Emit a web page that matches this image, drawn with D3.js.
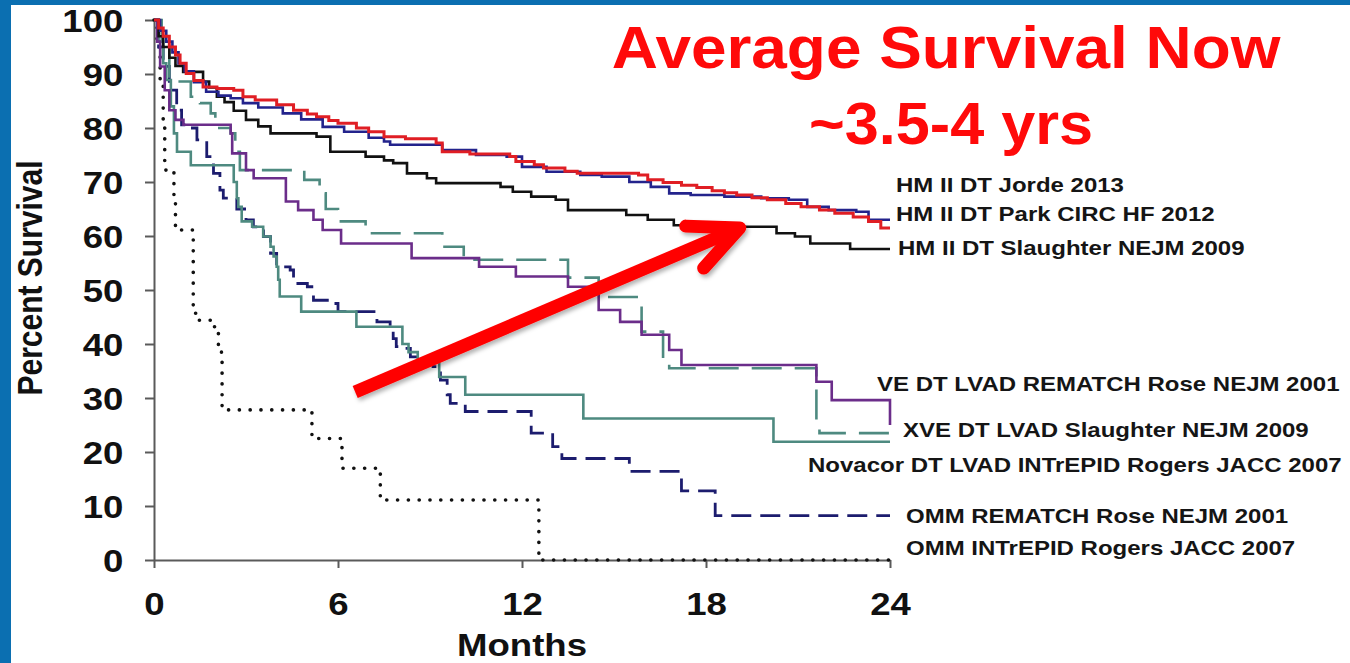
<!DOCTYPE html>
<html>
<head>
<meta charset="utf-8">
<script src="https://cdn.jsdelivr.net/npm/d3@7"></script>
<style>
  html, body { margin: 0; padding: 0; background: #fff; }
  svg { display: block; font-family: "Liberation Sans", Arial, Helvetica, sans-serif; }
</style>
</head>
<body>
<svg id="chart" width="1350" height="663"></svg>
<script>
// ---- Axis ticks ----
const monthTicks = [0, 6, 12, 18, 24];
const percentTicks = [0, 10, 20, 30, 40, 50, 60, 70, 80, 90, 100];

// ---- Kaplan-Meier steps: month where each step starts, survival (%) after it ----
const jordeMonths   = [0,0.15,0.3,0.5,0.7,0.85,1.05,1.3,1.6,2.05,2.6,2.9,3.3,4.0,4.55,5.0,5.3,5.7,6.0,6.6,7.0,7.5,8.2,9.2,9.4,10.3,11.6,11.8,12.4,12.7,13.4,13.8,15.8,16.1,16.6,17.2,17.7,18.2,18.6,19.0,19.5,20.0,20.6,21.1,21.7,22.2,22.8,23.3,23.7];
const jordeSurvival = [100,98.5,97,95,93.5,92,90.1,88.8,87.6,87.3,87.0,85.8,85.2,84.3,83.3,82.6,82.1,81.4,80.9,80.0,79.3,78.4,78.0,77.2,75.6,75.2,74.7,73.8,73.2,72.6,72.0,71.6,71.3,70.4,69.9,69.4,69.0,68.4,68.0,67.6,67.1,66.7,66.0,65.4,64.8,64.2,63.5,62.7,61.5];

const parkMonths   = [0,0.2,0.4,0.6,0.8,1.0,1.3,1.7,2.1,2.5,2.9,3.4,4.2,4.8,5.5,6.2,7.0,7.5,7.7,9.4,10.5,11.5,12.0,12.8,13.9,14.6,15.5,16.2,16.8,17.5,18.6,19.8,20.7,21.3,22.0,22.9,23.3];
const parkSurvival = [100,98,96,94,92,90.5,88.5,86.7,86.0,85.5,84.6,83.8,82.7,81.6,80.2,79.3,78.2,77.5,76.9,75.9,75.0,74.7,72.8,71.9,71.3,71.0,70.0,69.1,67.9,67.6,67.3,67.0,66.7,65.4,64.8,64.5,63.0];

const slaughterMonths   = [0,0.15,0.3,0.5,0.7,0.95,1.6,1.8,2.05,2.3,2.6,3.0,3.4,3.8,5.3,5.75,6.9,7.5,7.8,8.25,8.9,9.2,11.3,11.7,12.3,13.1,13.5,15.4,16.1,16.95,19.1,20.3,20.9,21.4,22.7];
const slaughterSurvival = [100,97,95,93,91.5,90.4,88.6,87.5,85.8,84.8,83.2,81.5,80.3,79.0,78.4,75.6,74.7,74.0,73.5,71.6,70.7,69.8,69.1,68.2,67.3,66.7,64.8,63.9,63.0,62.0,61.7,60.5,59.9,58.6,57.6];

const veMonths   = [0,0.1,0.2,0.35,0.5,0.7,0.96,2.5,2.55,3.0,3.25,4.3,4.7,5.2,5.5,6.1,8.4,10.6,11.8,13.5,14.5,15.2,15.9,16.8,17.2,21.6,22.1,24];
const veSurvival = [100,96,91.4,87,83.3,81.5,80.6,79.0,75.3,72.2,70.7,66.4,64.8,63.0,61.1,58.6,55.9,54.3,52.5,50.6,46.3,44.1,41.7,38.9,36.1,33.0,29.6,25.0];

const xveMonths   = [0,0.25,0.5,1.2,1.5,1.85,2.0,2.5,2.65,2.8,4.9,5.4,5.6,6.0,6.9,9.4,10.1,13.5,14.5,15.9,16.6,16.8,21.6,21.7];
const xveSurvival = [100,95,88.6,85.8,84.6,82.7,80.0,79.0,75.6,72.2,70.4,67.9,65.0,62.7,60.5,58.0,55.6,52.3,48.7,42.3,36.4,35.5,24.4,23.5];

const novacorMonths   = [0,0.15,0.3,0.4,0.55,0.65,0.75,1.2,2.6,2.7,2.75,2.86,3.2,3.56,3.8,3.9,4.0,4.05,4.1,4.8,6.6,8.1,8.3,8.6,9.3,10.15,14.0,20.2];
const novacorSurvival = [100,96,92,88.9,84,79,75.6,73.1,70.0,67.0,65.4,62.7,61.7,59.9,58.0,56.2,54.3,51.9,48.8,46.0,43.2,40.0,38.5,37.0,33.9,30.6,26.2,21.9];

const ommRematchMonths   = [0,0.15,0.3,0.5,0.74,0.9,1.2,1.4,1.72,1.94,2.15,2.26,2.7,3.0,3.24,3.57,3.8,4.0,4.44,4.55,5.0,5.2,5.75,6.0,7.27,7.7,7.8,7.9,8.25,8.36,9.1,9.34,9.56,9.66,10.15,12.3,13.0,13.3,15.5,17.2,18.3];
const ommRematchSurvival = [100,95,91.4,87,83.3,80.6,80.0,77.8,74.7,71.6,68.5,67.0,65.0,63.0,61.7,59.9,56.8,54.3,53.7,51.2,50.6,48.1,47.5,46.0,44.1,42.9,41.0,39.5,39.2,37.6,35.8,33.3,30.6,29.0,27.5,23.5,21.0,18.8,16.4,12.8,8.2];

const ommIntrepidMonths   = [0,0.1,0.2,0.3,0.35,0.65,0.7,1.28,1.45,1.95,2.1,2.2,2.22,5.15,6.13,7.38,12.55];
const ommIntrepidSurvival = [100,95,88,80,72.2,66,61.1,45.7,44.4,43.2,38.9,37.6,27.8,22.5,17.0,11.1,0];

const seriesLabels = [
  "HM II DT Jorde 2013",
  "HM II DT Park CIRC HF 2012",
  "HM II DT Slaughter NEJM 2009",
  "VE DT LVAD REMATCH Rose NEJM 2001",
  "XVE DT LVAD Slaughter NEJM 2009",
  "Novacor DT LVAD INTrEPID Rogers JACC 2007",
  "OMM REMATCH Rose NEJM 2001",
  "OMM INTrEPID Rogers JACC 2007"
];

// ---- Drawing setup ----
const svg = d3.select("#chart");
const W = 1350, H = 663;
const x = d3.scaleLinear().domain([0, 24]).range([154, 890]);
const y = d3.scaleLinear().domain([0, 100]).range([560, 20]);
const textStretch = 1.18;

svg.append("rect").attr("width", W).attr("height", H).attr("fill", "#fff");

const defs = svg.append("defs");
const shadow = defs.append("filter").attr("id", "arrowShadow")
  .attr("x", "-10%").attr("y", "-10%").attr("width", "130%").attr("height", "140%");
shadow.append("feDropShadow").attr("dx", 2).attr("dy", 3).attr("stdDeviation", 2)
  .attr("flood-color", "#000").attr("flood-opacity", 0.3);

// slide frame
svg.append("rect").attr("x", 0).attr("y", 0).attr("width", 11).attr("height", H).attr("fill", "#0b6fb1");
svg.append("rect").attr("x", 0).attr("y", 0).attr("width", W).attr("height", 5).attr("fill", "#0b6fb1");

// ---- Axes ----
const yAxis = svg.append("g").attr("transform", `translate(${x(0)},0)`)
  .call(d3.axisLeft(y).tickValues(percentTicks).tickSize(9).tickSizeOuter(0).tickFormat(d3.format("d")));
const xAxis = svg.append("g").attr("transform", `translate(0,${y(0)})`)
  .call(d3.axisBottom(x).tickValues(monthTicks).tickSize(8).tickSizeOuter(0).tickFormat(d3.format("d")));

[yAxis, xAxis].forEach(g => {
  g.select(".domain").attr("stroke", "#5a5a5a").attr("stroke-width", 2);
  g.selectAll(".tick line").attr("stroke", "#5a5a5a").attr("stroke-width", 2);
  g.selectAll(".tick text")
    .attr("font-size", 31).attr("font-weight", "bold").attr("fill", "#111")
    .attr("font-family", "'Liberation Sans', Arial, sans-serif");
});
yAxis.selectAll(".tick text").attr("x", -26).attr("dy", "0.36em")
  .attr("transform", `scale(${textStretch},1)`);
xAxis.selectAll(".tick text").attr("y", 33)
  .attr("transform", `scale(${textStretch},1)`);

// axis titles
svg.append("text")
  .attr("transform", `translate(${x(12)},656) scale(${textStretch},1)`)
  .attr("text-anchor", "middle").attr("font-size", 31).attr("font-weight", "bold").attr("fill", "#111")
  .text("Months");
svg.append("text")
  .attr("transform", `translate(42,${(y(0) + y(100)) / 2 - 12}) rotate(-90) scale(1,${textStretch})`)
  .attr("text-anchor", "middle").attr("font-size", 30).attr("font-weight", "bold").attr("fill", "#111")
  .text("Percent Survival");

// ---- Survival curves ----
const curveStyles = [
  { color: "#e01e24", width: 3,   dash: null },
  { color: "#23238c", width: 2.6, dash: null },
  { color: "#111111", width: 2.6, dash: null },
  { color: "#6b2d8a", width: 2.6, dash: null },
  { color: "#4e8a80", width: 2.6, dash: "30,13" },
  { color: "#4e8a80", width: 2.6, dash: null },
  { color: "#1c1c6e", width: 2.8, dash: "20,9" },
  { color: "#111111", width: 3.6, dash: "0.1,10.7", cap: "round" }
];
const seriesData = [
  [jordeMonths, jordeSurvival],
  [parkMonths, parkSurvival],
  [slaughterMonths, slaughterSurvival],
  [veMonths, veSurvival],
  [xveMonths, xveSurvival],
  [novacorMonths, novacorSurvival],
  [ommRematchMonths, ommRematchSurvival],
  [ommIntrepidMonths, ommIntrepidSurvival]
].map(([m, s], i) => {
  const pts = m.map((t, j) => [t, s[j]]);
  const last = pts[pts.length - 1];
  if (last[0] < 24) pts.push([24, last[1]]);
  return { label: seriesLabels[i], points: pts, style: curveStyles[i] };
});

const line = d3.line().x(d => x(d[0])).y(d => y(d[1])).curve(d3.curveStepAfter);
const drawOrder = [7, 6, 5, 4, 3, 2, 1, 0];
svg.append("g").selectAll("path")
  .data(drawOrder.map(i => seriesData[i]))
  .join("path")
  .attr("d", d => line(d.points))
  .attr("fill", "none")
  .attr("stroke", d => d.style.color)
  .attr("stroke-width", d => d.style.width)
  .attr("stroke-dasharray", d => d.style.dash)
  .attr("stroke-linecap", d => d.style.cap || "butt")
  .attr("stroke-linejoin", "miter");

// ---- Series labels at the curve ends ----
const labelSpots = [
  { dx: 896, base: 192 },
  { dx: 896, base: 221 },
  { dx: 898, base: 255 },
  { dx: 877, base: 391 },
  { dx: 903, base: 437 },
  { dx: 808, base: 472 },
  { dx: 906, base: 523 },
  { dx: 906, base: 555 }
];
svg.append("g").selectAll("text")
  .data(seriesData)
  .join("text")
  .attr("transform", (d, i) => `translate(${labelSpots[i].dx},${labelSpots[i].base}) scale(1.2,1)`)
  .attr("font-size", 20).attr("font-weight", "bold").attr("fill", "#151515")
  .text(d => d.label);

// ---- Headline ----
const headline = svg.append("g").attr("fill", "#ff0a0a").attr("font-weight", "bold")
  .attr("text-anchor", "middle").attr("font-size", 60);
headline.append("text").attr("transform", "translate(946,68) scale(1.065,1)").text("Average Survival Now");
headline.append("text").attr("transform", "translate(951,144) scale(1.02,1)").text("~3.5-4 yrs");

// ---- Arrow pointing at the HM II curves ----
const arrowFrom = [6.56, 31.1];
const arrowTo = [19.1, 61.5];
const ax0 = x(arrowFrom[0]), ay0 = y(arrowFrom[1]);
const ax1 = x(arrowTo[0]), ay1 = y(arrowTo[1]);
const back = Math.atan2(ay0 - ay1, ax0 - ax1);
const armLen = 54, spread = 25 * Math.PI / 180;
const arrow = svg.append("g").attr("filter", "url(#arrowShadow)")
  .attr("stroke", "#ff0000").attr("fill", "none");
arrow.append("line")
  .attr("x1", ax0).attr("y1", ay0).attr("x2", ax1 - 4 * Math.cos(back + Math.PI)).attr("y2", ay1 - 4 * Math.sin(back + Math.PI))
  .attr("stroke-width", 13).attr("stroke-linecap", "butt");
arrow.append("path")
  .attr("d", `M${ax1 + armLen * Math.cos(back + spread)},${ay1 + armLen * Math.sin(back + spread)} L${ax1},${ay1} L${ax1 + armLen * Math.cos(back - spread)},${ay1 + armLen * Math.sin(back - spread)}`)
  .attr("stroke-width", 13).attr("stroke-linecap", "round").attr("stroke-linejoin", "round");
</script>
</body>
</html>
